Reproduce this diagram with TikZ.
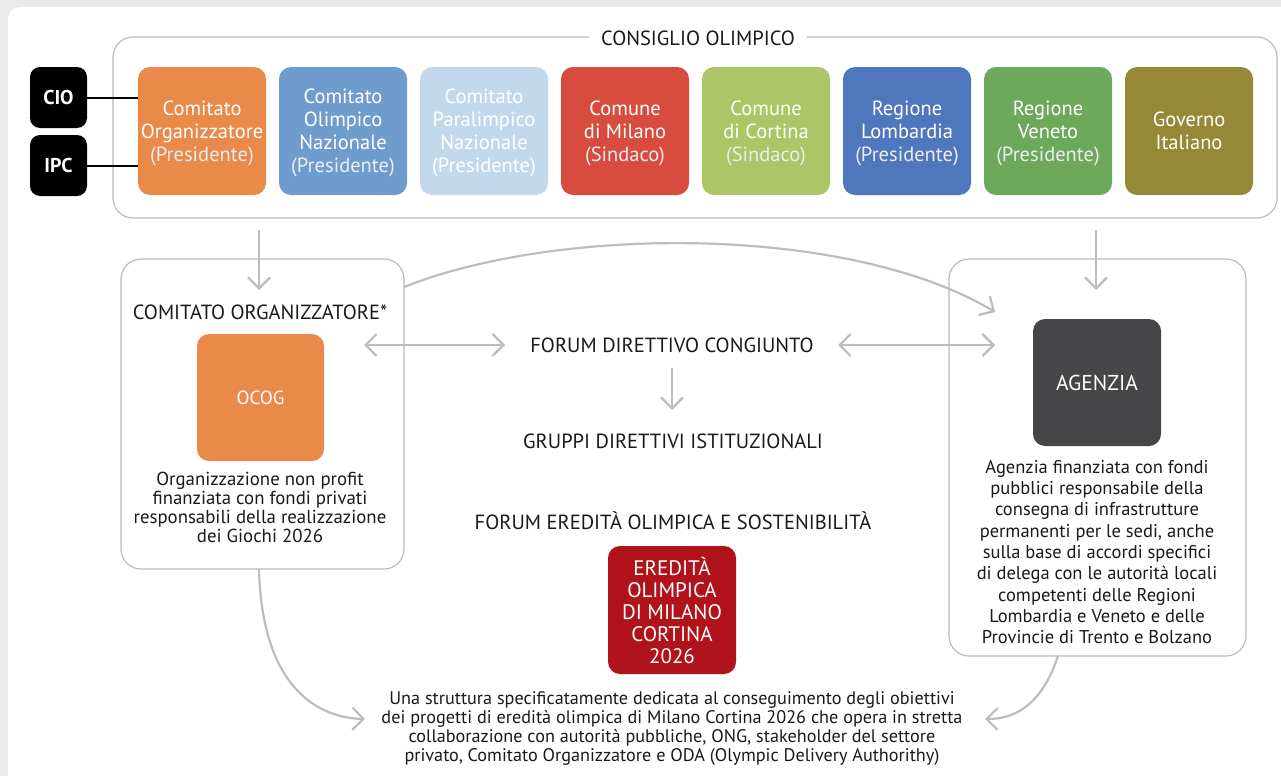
\documentclass[tikz,border=0pt]{standalone}
\usepackage{fontspec}
\setmainfont{PT Sans}
\usetikzlibrary{arrows.meta}
\definecolor{bggray}{HTML}{EAEAEA}
\definecolor{boxgray}{HTML}{BBBBBB}
\definecolor{argray}{HTML}{BDBDBD}
\definecolor{txt}{HTML}{1A1A1A}
\definecolor{cA}{HTML}{EA8A4A}
\definecolor{cB}{HTML}{6E9CCF}
\definecolor{cC}{HTML}{C4D8EC}
\definecolor{cD}{HTML}{D84C40}
\definecolor{cE}{HTML}{ADC566}
\definecolor{cF}{HTML}{4F77BE}
\definecolor{cG}{HTML}{6CA95A}
\definecolor{cH}{HTML}{958938}
\definecolor{ered}{HTML}{B01319}
\definecolor{agz}{HTML}{464648}
\tikzset{
  cbox/.style={minimum width=128pt, minimum height=128pt, rounded corners=12pt, text=white, align=center, inner sep=0pt, text depth=0pt, font=\fontsize{20.5}{23}\selectfont},
  blackbox/.style={fill=black, minimum width=57pt, minimum height=61pt, rounded corners=10pt, text=white, inner sep=0pt, font=\fontsize{20}{22}\selectfont\bfseries},
  panel/.style={draw=boxgray, line width=1.2pt, rounded corners=20pt, inner sep=0pt},
  heading/.style={text=txt, font=\fontsize{20.5}{22}\selectfont, inner sep=0pt},
  desc/.style={text=txt, align=center, inner sep=0pt, font=\fontsize{18.8}{19}\selectfont},
  garrow/.style={draw=argray, line width=2.2pt, -{Straight Barb[length=11pt,width=22pt]}},
  garrowb/.style={draw=argray, line width=2.2pt, {Straight Barb[length=11pt,width=22pt]}-{Straight Barb[length=11pt,width=22pt]}},
}
\newcommand{\pres}[1]{{\color{white!93!black}#1}}
\begin{document}
\begin{tikzpicture}[x=1pt,y=-1pt]
\useasboundingbox (0,0) rectangle (1281,776);
\fill[bggray] (0,0) rectangle (1281,776);
\fill[white, rounded corners=12pt] (8,7) rectangle (1300,800);

% Consiglio
\node[panel, minimum width=1164pt, minimum height=181pt] (consiglio) at (695,127.5) {};
\node[heading, fill=white, inner xsep=12pt, inner ysep=4pt] (ctitle) at (698,38) {CONSIGLIO OLIMPICO};

\node[cbox, fill=cA] (b1) at (202,131) {Comitato\\Organizzatore\\\pres{(Presidente)}};
\node[cbox, fill=cB] (b2) at (343,131) {Comitato\\Olimpico\\Nazionale\\\pres{(Presidente)}};
\node[cbox, fill=cC] (b3) at (484,131) {Comitato\\Paralimpico\\Nazionale\\(Presidente)};
\node[cbox, fill=cD] (b4) at (625,131) {Comune\\di Milano\\\pres{(Sindaco)}};
\node[cbox, fill=cE] (b5) at (766,131) {Comune\\di Cortina\\\pres{(Sindaco)}};
\node[cbox, fill=cF] (b6) at (907,131) {Regione\\Lombardia\\\pres{(Presidente)}};
\node[cbox, fill=cG] (b7) at (1048,131) {Regione\\Veneto\\\pres{(Presidente)}};
\node[cbox, fill=cH] (b8) at (1189,131) {Governo\\Italiano};

\node[blackbox] (cio) at (58.5,97.5) {CIO};
\node[blackbox] (ipc) at (58.5,165.5) {IPC};
\draw[line width=2pt] (cio.east) -- (b1.west |- cio.east);
\draw[line width=2pt] (ipc.east) -- (b1.west |- ipc.east);

% side panels
\node[panel, minimum width=283pt, minimum height=310pt] (left) at (262.5,414) {};
\node[panel, minimum width=297pt, minimum height=397pt] (right) at (1097.5,457.5) {};

\coordinate (l1) at (259,230);
\coordinate (l2) at (259,290);
\coordinate (r1) at (1096,230);
\coordinate (r2) at (1096,290);
\draw[garrow] (l1) -- (l2);
\draw[garrow] (r1) -- (r2);

\node[heading] (cotitle) at (260,312) {COMITATO ORGANIZZATORE*};
\node[cbox, fill=cA, minimum width=127pt, minimum height=127pt, font=\fontsize{19}{22}\selectfont] (ocog) at (260.5,397.5) {OCOG};
\node[desc] (ocogd) at (260,507) {Organizzazione non profit\\finanziata con fondi privati\\responsabili della realizzazione\\dei Giochi 2026};

\node[heading] (forum) at (672,345) {FORUM DIRETTIVO CONGIUNTO};
\node[heading] (gruppi) at (673,441) {GRUPPI DIRETTIVI ISTITUZIONALI};
\node[heading] (fered) at (673,521) {FORUM EREDITÀ OLIMPICA E SOSTENIBILITÀ};
\node[cbox, fill=ered, font=\fontsize{21}{22}\selectfont] (ered) at (672,610) {EREDITÀ\\OLIMPICA\\DI MILANO\\CORTINA\\2026};

\node[cbox, fill=agz, minimum width=128pt, minimum height=127pt, font=\fontsize{21.5}{22}\selectfont] (agenzia) at (1097,382.5) {AGENZIA};
\node[desc, font=\fontsize{18.5}{21.3}\selectfont] (agd) at (1097,552) {Agenzia finanziata con fondi\\pubblici responsabile della\\consegna di infrastrutture\\permanenti per le sedi, anche\\sulla base di accordi specifici\\di delega con le autorità locali\\competenti delle Regioni\\Lombardia e Veneto e delle\\Provincie di Trento e Bolzano};

\node[desc, font=\fontsize{18.2}{19}\selectfont] (bottom) at (672,729) {Una struttura specificatamente dedicata al conseguimento degli obiettivi\\dei progetti di eredità olimpica di Milano Cortina 2026 che opera in stretta\\collaborazione con autorità pubbliche, ONG, stakeholder del settore\\privato, Comitato Organizzatore e ODA (Olympic Delivery Authorithy)};

% arrows
\coordinate (fa1) at (364,345);
\coordinate (fa2) at (505,345);
\coordinate (fb1) at (838,345);
\coordinate (fb2) at (995,345);
\draw[garrowb] (fa1) -- (fa2);
\draw[garrowb] (fb1) -- (fb2);
\coordinate (fd1) at (672,368);
\coordinate (fd2) at (672,410);
\draw[garrow] (fd1) -- (fd2);

\coordinate (cs) at (404,287);
\coordinate (ce) at (995,312);
\draw[garrow] (cs) .. controls (560,225) and (850,225) .. (ce);

\coordinate (bl1) at (259,569);
\coordinate (bl2) at (365,719);
\draw[garrow] (bl1) .. controls (262,690) and (320,718) .. (bl2);
\coordinate (br1) at (1058,656);
\coordinate (br2) at (985,719);
\draw[garrow] (br1) .. controls (1040,710) and (1010,719) .. (br2);
\end{tikzpicture}
\end{document}
